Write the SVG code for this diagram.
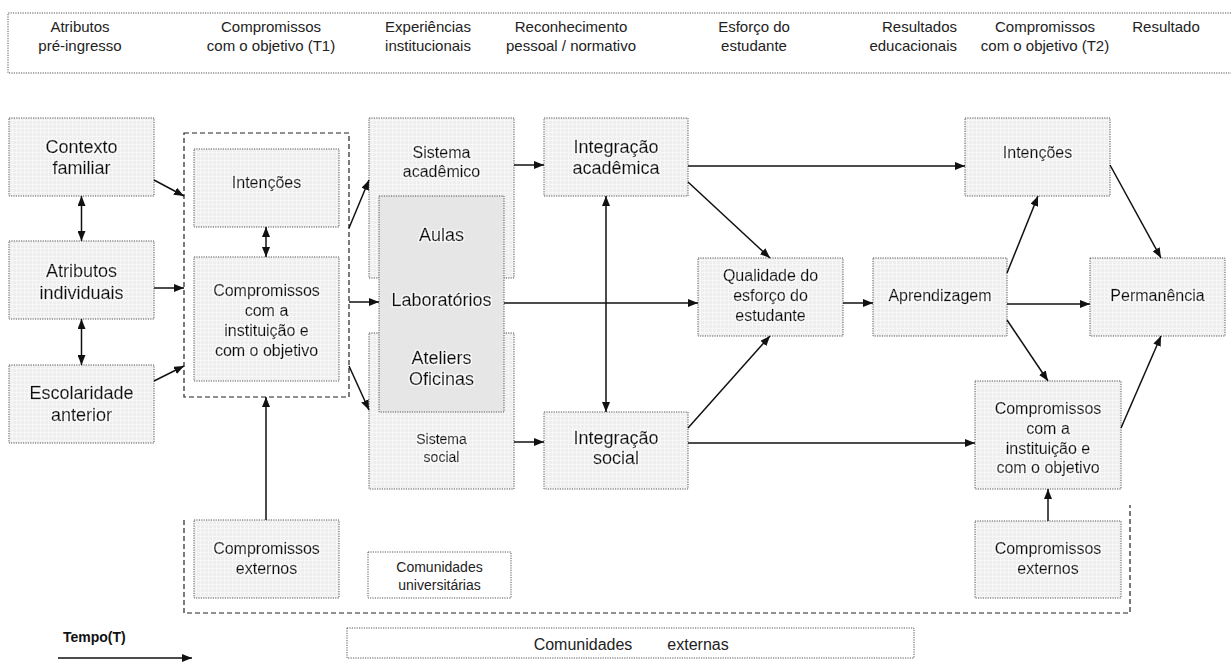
<svg xmlns="http://www.w3.org/2000/svg" width="1231" height="662" viewBox="0 0 1231 662">
<defs>
<pattern id="tex" width="4" height="4" patternUnits="userSpaceOnUse">
<rect width="4" height="4" fill="#eeeeee"/>
<path d="M0,0.5H4M0.5,0V4" stroke="#f7f7f7" stroke-width="1"/>
</pattern>
<filter id="halo" x="-10%" y="-30%" width="120%" height="160%">
<feMorphology in="SourceAlpha" operator="dilate" radius="1.4" result="d"/>
<feFlood flood-color="#ffffff" flood-opacity="0.95"/>
<feComposite in2="d" operator="in" result="w"/>
<feMerge><feMergeNode in="w"/><feMergeNode in="SourceGraphic"/></feMerge>
</filter>
<marker id="ah" viewBox="0 0 10 8" refX="10" refY="4" markerWidth="10" markerHeight="8" markerUnits="userSpaceOnUse" orient="auto-start-reverse">
<path d="M0,0L10,4L0,8z" fill="#111"/>
</marker>
</defs>
<style>
.box{fill:url(#tex);stroke:#555;stroke-width:1;stroke-dasharray:1.2 1.2}
.plain{fill:#fff;stroke:#555;stroke-width:1;stroke-dasharray:1.2 1.2}
.grey{fill:#e6e6e6;stroke:#555;stroke-width:1;stroke-dasharray:1.2 1.2}
.dash{fill:none;stroke:#222;stroke-width:1.2;stroke-dasharray:5 3}
.n{font-family:"Liberation Sans",Arial,sans-serif;fill:#111;text-anchor:middle;stroke:#111;stroke-width:0.35;filter:url(#halo)}
.h{font-family:"Liberation Sans",Arial,sans-serif;fill:#222;font-size:15px;text-anchor:middle}
.s{font-family:"Liberation Sans",Arial,sans-serif;fill:#222;text-anchor:middle}
.c line,.c path{stroke:#111;stroke-width:1.5;fill:none;marker-end:url(#ah)}
.c .d{marker-start:url(#ah)}
</style>

<g id="header">
<path d="M1231,13H8V73H1231" fill="none" stroke="#555" stroke-width="1" stroke-dasharray="1.2 1.2"/>
<text class="h" x="80" y="32">Atributos</text><text class="h" x="80" y="51">pré-ingresso</text>
<text class="h" x="271" y="32">Compromissos</text><text class="h" x="271" y="51">com o objetivo (T1)</text>
<text class="h" x="428" y="32">Experiências</text><text class="h" x="428" y="51">institucionais</text>
<text class="h" x="571" y="32">Reconhecimento</text><text class="h" x="571" y="51">pessoal / normativo</text>
<text class="h" x="754" y="32">Esforço do</text><text class="h" x="754" y="51">estudante</text>
<text class="h" x="957" y="32" style="text-anchor:end">Resultados</text><text class="h" x="957" y="51" style="text-anchor:end">educacionais</text>
<text class="h" x="1045" y="32">Compromissos</text><text class="h" x="1045" y="51">com o objetivo (T2)</text>
<text class="h" x="1166" y="32">Resultado</text>
</g>

<g id="bracket-externo"><path class="dash" d="M184,520V613H1130V505"/></g>

<g id="contexto-familiar"><rect class="box" x="9" y="118" width="145" height="78"/>
<text class="n" font-size="18" x="81.5" y="153">Contexto</text><text class="n" font-size="18" x="81.5" y="174">familiar</text></g>
<g id="atributos-individuais"><rect class="box" x="9" y="241" width="145" height="78"/>
<text class="n" font-size="18" x="81.5" y="277">Atributos</text><text class="n" font-size="18" x="81.5" y="299">individuais</text></g>
<g id="escolaridade-anterior"><rect class="box" x="9" y="365" width="145" height="78"/>
<text class="n" font-size="18" x="81.5" y="399">Escolaridade</text><text class="n" font-size="18" x="81.5" y="421">anterior</text></g>

<g id="compromissos-t1"><rect class="dash" x="184" y="133" width="165" height="264"/></g>
<g id="intencoes-t1"><rect class="box" x="194" y="149" width="145" height="78"/>
<text class="n" font-size="16" x="266.5" y="188">Intenções</text></g>
<g id="compromissos-instituicao-t1"><rect class="box" x="194" y="257" width="145" height="124"/>
<text class="n" font-size="16" x="266.5" y="296">Compromissos</text><text class="n" font-size="16" x="266.5" y="316">com a</text>
<text class="n" font-size="16" x="266.5" y="336">instituição e</text><text class="n" font-size="16" x="266.5" y="356">com o objetivo</text></g>

<g id="sistema-academico"><rect class="box" x="369" y="118" width="145" height="160"/>
<text class="n" font-size="16" x="441.5" y="158">Sistema</text><text class="n" font-size="16" x="441.5" y="177">acadêmico</text></g>
<g id="sistema-social"><rect class="box" x="369" y="333" width="145" height="156"/>
<text class="n" font-size="14" x="441.5" y="444">Sistema</text><text class="n" font-size="14" x="441.5" y="462">social</text></g>
<g id="aulas-laboratorios"><rect class="grey" x="379" y="196" width="125" height="216"/>
<text class="n" font-size="18" x="441.5" y="241">Aulas</text>
<text class="n" font-size="18" x="441.5" y="306">Laboratórios</text>
<text class="n" font-size="18" x="441.5" y="364">Ateliers</text>
<text class="n" font-size="18" x="441.5" y="385">Oficinas</text></g>

<g id="integracao-academica"><rect class="box" x="544" y="118" width="144" height="78"/>
<text class="n" font-size="18" x="616" y="153">Integração</text><text class="n" font-size="18" x="616" y="174">acadêmica</text></g>
<g id="integracao-social"><rect class="box" x="544" y="412" width="144" height="77"/>
<text class="n" font-size="18" x="616" y="444">Integração</text><text class="n" font-size="18" x="616" y="464">social</text></g>

<g id="qualidade-esforco"><rect class="box" x="698" y="258" width="145" height="78"/>
<text class="n" font-size="16" x="770.5" y="281">Qualidade do</text><text class="n" font-size="16" x="770.5" y="301">esforço do</text><text class="n" font-size="16" x="770.5" y="321">estudante</text></g>
<g id="aprendizagem"><rect class="box" x="873" y="258" width="134" height="78"/>
<text class="n" font-size="16" x="940" y="301">Aprendizagem</text></g>
<g id="intencoes-t2"><rect class="box" x="965" y="118" width="145" height="78"/>
<text class="n" font-size="16" x="1037.5" y="158">Intenções</text></g>
<g id="permanencia"><rect class="box" x="1090" y="258" width="135" height="78"/>
<text class="n" font-size="16" x="1157.5" y="301">Permanência</text></g>
<g id="compromissos-instituicao-t2"><rect class="box" x="975" y="381" width="146" height="108"/>
<text class="n" font-size="16" x="1048" y="414">Compromissos</text><text class="n" font-size="16" x="1048" y="434">com a</text>
<text class="n" font-size="16" x="1048" y="454">instituição e</text><text class="n" font-size="16" x="1048" y="473">com o objetivo</text></g>

<g id="compromissos-externos-t1"><rect class="box" x="194" y="520" width="145" height="78"/>
<text class="n" font-size="16" x="266.5" y="554">Compromissos</text><text class="n" font-size="16" x="266.5" y="574">externos</text></g>
<g id="compromissos-externos-t2"><rect class="box" x="975" y="521" width="146" height="77"/>
<text class="n" font-size="16" x="1048" y="554">Compromissos</text><text class="n" font-size="16" x="1048" y="574">externos</text></g>
<g id="comunidades-universitarias"><rect class="plain" x="368" y="552" width="143" height="46"/>
<text class="s" font-size="14" x="439.5" y="572">Comunidades</text><text class="s" font-size="14" x="439.5" y="590">universitárias</text></g>
<g id="comunidades-externas"><rect class="plain" x="347" y="628" width="567" height="30"/>
<text class="s" font-size="16" y="650"><tspan x="583">Comunidades</tspan><tspan x="698">externas</tspan></text></g>

<g id="tempo">
<text font-family="Liberation Sans,Arial,sans-serif" font-weight="bold" font-size="14" fill="#111" x="63" y="642">Tempo(T)</text>
</g>

<g id="connectors" class="c">
<line x1="58" y1="658" x2="192" y2="658"/>
<line class="d" x1="81.5" y1="196" x2="81.5" y2="241"/>
<line class="d" x1="81.5" y1="319" x2="81.5" y2="365"/>
<line x1="154" y1="180" x2="184" y2="196"/>
<line x1="154" y1="288" x2="184" y2="288"/>
<line x1="154" y1="381" x2="184" y2="366"/>
<line class="d" x1="266" y1="227" x2="266" y2="257"/>
<line x1="266" y1="520" x2="266" y2="397"/>
<line x1="349" y1="228" x2="369" y2="180"/>
<line x1="349" y1="302" x2="379" y2="302"/>
<line x1="349" y1="366" x2="369" y2="410"/>
<line x1="514" y1="165" x2="544" y2="165"/>
<line x1="514" y1="442" x2="544" y2="442"/>
<line class="d" x1="606" y1="196" x2="606" y2="412"/>
<line x1="504" y1="303" x2="698" y2="303"/>
<line x1="688" y1="166" x2="965" y2="166"/>
<line x1="688" y1="182" x2="770" y2="258"/>
<line x1="688" y1="428" x2="770" y2="336"/>
<line x1="688" y1="443" x2="975" y2="443"/>
<line x1="843" y1="303" x2="873" y2="303"/>
<line x1="1007" y1="273" x2="1038" y2="196"/>
<line x1="1007" y1="304" x2="1090" y2="304"/>
<line x1="1007" y1="320" x2="1048" y2="381"/>
<line x1="1110" y1="165" x2="1161" y2="258"/>
<line x1="1121" y1="428" x2="1161" y2="336"/>
<line x1="1048" y1="521" x2="1048" y2="489"/>
</g>
</svg>
